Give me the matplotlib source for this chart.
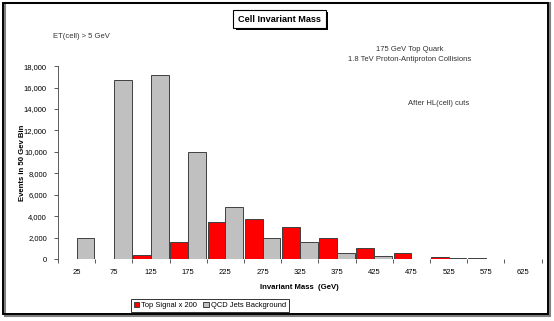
import matplotlib.pyplot as plt
import numpy as np
from matplotlib import patheffects
from matplotlib.patches import Rectangle
from matplotlib.ticker import FuncFormatter, FixedLocator

plt.rcParams['font.family'] = ['Liberation Sans', 'DejaVu Sans']

# data
mass_bins = ['25', '75', '125', '175', '225', '275', '325', '375', '425', '475', '525', '575', '625']
top_signal = [0, 0, 400, 1600, 3450, 3700, 3000, 1950, 1050, 550, 200, 80, 15]
qcd_background = [1950, 16700, 17200, 9980, 4900, 1950, 1580, 540, 250, 0, 60, 0, 0]

x = np.arange(len(mass_bins))
w = 0.48

fig = plt.figure(figsize=(5.54, 3.21), dpi=100)
ax = fig.add_axes([0.1047, 0.193, 0.873, 0.601])

edge = '#404040'
b1 = ax.bar(x - w / 2, top_signal, w, color='#ff0000', edgecolor=edge, linewidth=0.7)
b2 = ax.bar(x + w / 2, qcd_background, w, color='#c0c0c0', edgecolor=edge, linewidth=0.7)

ax.set_xlim(-0.5, len(mass_bins) - 0.5)
ax.set_ylim(0, 18000)
ax.set_yticks(np.arange(0, 18001, 2000))
ax.yaxis.set_major_formatter(FuncFormatter(lambda v, p: f'{int(v):,}'))
ax.set_xticks(x)
ax.set_xticklabels(mass_bins)
ax.xaxis.set_minor_locator(FixedLocator(np.arange(-0.5, len(mass_bins), 1.0)))
ax.tick_params(axis='x', which='major', length=0, labelsize=5.5, pad=7)
ax.tick_params(axis='x', which='minor', length=3, width=0.6, color='#404040')
ax.tick_params(axis='y', length=3, width=0.6, labelsize=5.5, pad=5, color='#404040')

for s in ['top', 'right', 'bottom']:
    ax.spines[s].set_visible(False)
ax.spines['left'].set_linewidth(0.6)
ax.spines['left'].set_color('#404040')

ax.set_xlabel('Invariant Mass  (GeV)', fontsize=5.6, fontweight='bold', labelpad=6)
ax.set_ylabel('Events in 50 Gev Bin', fontsize=5.6, fontweight='bold')
ax.yaxis.set_label_coords(-0.066, 0.5)

# title box with shadow
t = fig.text(0.5045, 0.94, 'Cell Invariant Mass', fontsize=6.6, fontweight='bold',
             ha='center', va='center',
             bbox=dict(boxstyle='square,pad=0.5', fc='white', ec='black', lw=0.8))
t.get_bbox_patch().set_path_effects([
    patheffects.SimplePatchShadow(offset=(1.5, -1.5), shadow_rgbFace='black', alpha=1.0),
    patheffects.Normal()])

fig.text(0.0957, 0.885, 'ET(cell) > 5 GeV', fontsize=5.5, color='#333333', ha='left', va='center')
fig.text(0.740, 0.847, '175 GeV Top Quark', fontsize=5.5, color='#333333', ha='center', va='center')
fig.text(0.740, 0.816, '1.8 TeV Proton-Antiproton Collisions', fontsize=5.5, color='#333333',
         ha='center', va='center')
fig.text(0.737, 0.679, 'After HL(cell) cuts', fontsize=5.5, color='#333333', ha='left', va='center')

leg = fig.legend([b1, b2], ['Top Signal x 200', 'QCD Jets Background'], loc='center',
                 bbox_to_anchor=(0.379, 0.049), ncol=2, fontsize=5.4, frameon=True,
                 fancybox=False, edgecolor='black', handlelength=0.7, handleheight=0.7,
                 handletextpad=0.3, columnspacing=0.8, borderpad=0.35)
leg.get_frame().set_linewidth(0.7)

# outer chart border with shadow
fig.patches.append(Rectangle((0.009, 0.016), 0.984, 0.975, transform=fig.transFigure,
                             fill=False, ec='#808080', lw=1.5, zorder=0))
fig.patches.append(Rectangle((0.005, 0.022), 0.984, 0.97, transform=fig.transFigure,
                             fill=False, ec='black', lw=1.4, zorder=1))

fig.savefig('out.png', dpi=100)
